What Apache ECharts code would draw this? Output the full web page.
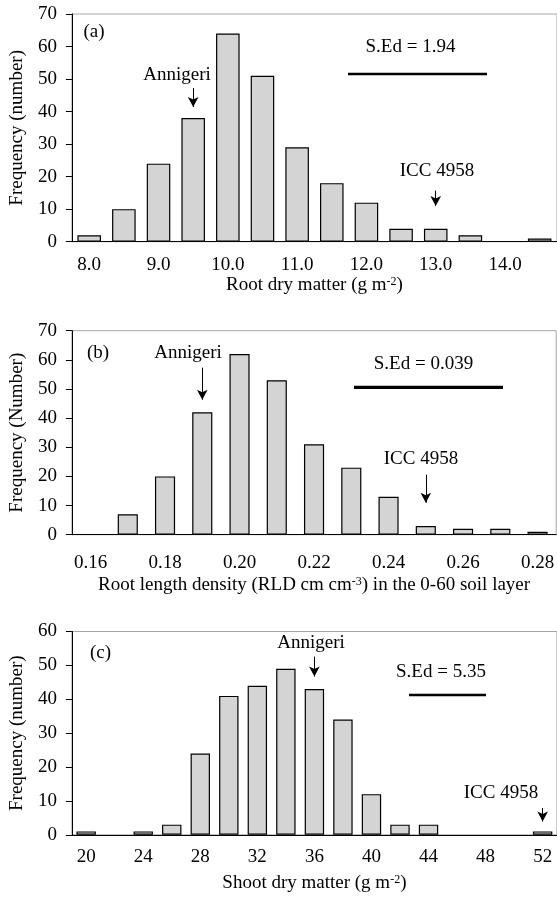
<!DOCTYPE html>
<html>
<head>
<meta charset="utf-8">
<title>Frequency histograms</title>
<script src="https://cdn.jsdelivr.net/npm/echarts@6/dist/echarts.min.js"></script>
<style>
  html, body { margin: 0; padding: 0; background: #fff; }
  #chart { width: 557px; height: 897px; }
</style>
</head>
<body>
<div id="chart"></div>
<script>
// (a) root dry matter
var catsA = ['8.0', '8.5', '9.0', '9.5', '10.0', '10.5', '11.0', '11.5', '12.0', '12.5', '13.0', '13.5', '14.0', '14.5'];
var valsA = [2, 10, 24, 38, 64, 51, 29, 18, 12, 4, 4, 2, 0, 1];
// (b) root length density
var catsB = ['0.16', '0.17', '0.18', '0.19', '0.20', '0.21', '0.22', '0.23', '0.24', '0.25', '0.26', '0.27', '0.28'];
var valsB = [0, 7, 20, 42, 62, 53, 31, 23, 13, 3, 2, 2, 1];
// (c) shoot dry matter
var catsC = ['20', '22', '24', '26', '28', '30', '32', '34', '36', '38', '40', '42', '44', '46', '48', '50', '52'];
var valsC = [1, 0, 1, 3, 24, 41, 44, 49, 43, 34, 12, 3, 3, 0, 0, 0, 1];

var FONT = '"Liberation Serif", "Times New Roman", serif';
var FS = 19;

function evenOnly(idx) { return idx % 2 === 0; }

function xAxis(gi, cats, name, gap, labelMargin, labelShow) {
  return {
    type: 'category', gridIndex: gi, data: cats,
    name: name, nameLocation: 'middle', nameGap: gap,
    nameTextStyle: {
      fontFamily: FONT, fontSize: FS, color: '#000',
      rich: { sup: { fontFamily: FONT, fontSize: 12, color: '#000', verticalAlign: 'top', lineHeight: 12, padding: [0, 0, 4, 0] } }
    },
    axisLine: { lineStyle: { color: '#000', width: 1 } },
    axisTick: { interval: 0, length: 6, lineStyle: { color: '#000' } },
    axisLabel: { interval: labelShow, margin: labelMargin, fontFamily: FONT, fontSize: FS, color: '#000' },
    splitLine: { show: false }
  };
}

function yAxis(gi, max, name, gap) {
  return {
    type: 'value', gridIndex: gi, min: 0, max: max, interval: 10,
    name: name, nameLocation: 'middle', nameGap: gap, nameRotate: 90,
    nameTextStyle: { fontFamily: FONT, fontSize: FS, color: '#000' },
    axisLine: { show: true, lineStyle: { color: '#000', width: 1 } },
    axisTick: { show: true, length: 6, lineStyle: { color: '#000' } },
    axisLabel: { margin: 15, fontFamily: FONT, fontSize: FS, color: '#000' },
    splitLine: { show: false }
  };
}

function arrows(list) {
  return {
    silent: true, symbol: ['none', 'arrow'], symbolSize: [8, 10],
    lineStyle: { color: '#000', width: 1, type: 'solid' },
    label: { show: false },
    data: list.map(function (a) { return [{ coord: [a[0], a[1]] }, { coord: [a[0], a[2]] }]; })
  };
}

// empty classes get no outline
function barData(vals) {
  return vals.map(function (v) {
    return v === 0 ? { value: 0, itemStyle: { borderWidth: 0, color: 'transparent' } } : v;
  });
}

function bars(gi, vals, gap, arr) {
  return {
    type: 'bar', xAxisIndex: gi, yAxisIndex: gi, data: barData(vals),
    barCategoryGap: gap,
    itemStyle: { color: '#d4d4d4', borderColor: '#000', borderWidth: 1.2 },
    markLine: arrows(arr)
  };
}

function txt(x, y, s) {
  return { type: 'text', x: x, y: y, style: { text: s, fontFamily: FONT, fontSize: FS, fill: '#000', align: 'center', verticalAlign: 'middle' } };
}
function hline(x1, x2, y, w) {
  return { type: 'line', shape: { x1: x1, y1: y, x2: x2, y2: y }, style: { stroke: '#000', lineWidth: w } };
}

var chart = echarts.init(document.getElementById('chart'));
chart.setOption({
  animation: false,
  backgroundColor: '#fff',
  grid: [
    { left: 65.3, top: 14, width: 493, height: 227.7, show: true, borderColor: '#a6a6a6', borderWidth: 1, backgroundColor: 'transparent' },
    { left: 70.5, top: 330.7, width: 489, height: 204, show: true, borderColor: '#a6a6a6', borderWidth: 1, backgroundColor: 'transparent' },
    { left: 68.1, top: 631.5, width: 488.8, height: 203.3, show: true, borderColor: '#a6a6a6', borderWidth: 1, backgroundColor: 'transparent' }
  ],
  xAxis: [
    xAxis(0, catsA, 'Root dry matter (g m{sup|-2})', 32, 14, function (i) { return i % 2 === 0 && i < 13; }),
    xAxis(1, catsB, 'Root length density (RLD cm cm{sup|-3}) in the 0-60 soil layer', 41, 19, evenOnly),
    xAxis(2, catsC, 'Shoot dry matter (g m{sup|-2})', 39, 13, evenOnly)
  ],
  yAxis: [
    yAxis(0, 70, 'Frequency (number)', 39),
    yAxis(1, 70, 'Frequency (Number)', 43),
    yAxis(2, 60, 'Frequency (number)', 41)
  ],
  series: [
    bars(0, valsA, '32%', [['9.5', 47.2, 41.4], ['13.0', 15.7, 11.0]]),
    bars(1, valsB, '46%', [['0.19', 57.3, 46.3], ['0.25', 20.6, 11.0]]),
    bars(2, valsC, '32%', [['36', 52.6, 46.7], ['52', 7.9, 3.9]])
  ],
  graphic: [
    txt(94, 31.7, '(a)'),
    txt(177, 75, 'Annigeri'),
    txt(410.5, 46.7, 'S.Ed = 1.94'),
    hline(348, 487, 74, 2.5),
    txt(437, 171, 'ICC 4958'),

    txt(98, 352.7, '(b)'),
    txt(188, 352.7, 'Annigeri'),
    txt(423.5, 364, 'S.Ed = 0.039'),
    hline(354, 503, 387.3, 3.3),
    txt(421, 459.3, 'ICC 4958'),

    txt(100.5, 653.3, '(c)'),
    txt(311, 643.3, 'Annigeri'),
    txt(441, 672, 'S.Ed = 5.35'),
    hline(409, 486, 695, 2.7),
    txt(501, 792.7, 'ICC 4958')
  ]
});
</script>
</body>
</html>
